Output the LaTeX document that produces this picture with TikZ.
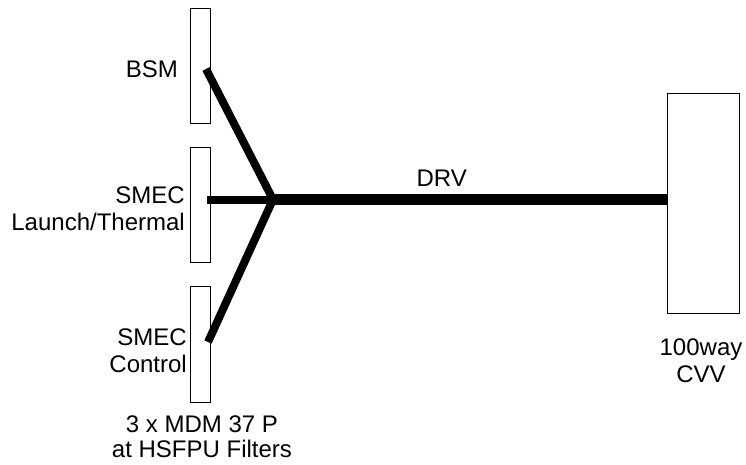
\documentclass[tikz,border=0pt]{standalone}
\usepackage{fontspec}
\setmainfont{Liberation Sans}
\begin{document}
\begin{tikzpicture}[x=1pt,y=-1pt,
  conn/.style={draw,line width=0.9pt,minimum width=20pt,minimum height=115pt,inner sep=0pt},
  lbl/.style={inner sep=0pt,font=\fontsize{24}{26}\selectfont},
  branch/.style={line width=8pt,line cap=butt},
  trunk/.style={line width=11.5pt,line cap=butt}]
\useasboundingbox (0,0) rectangle (746,464);
% connector boxes
\node[conn] (b1) at (200,65.5) {};
\node[conn] (b2) at (200,204.5) {};
\node[conn,minimum height=116pt] (b3) at (200,344) {};
\node[conn,minimum width=72pt,minimum height=220pt] (cvv) at (703,203) {};
% junction and branch ends
\coordinate (j) at (273,199.5);
\coordinate (s1) at (206,69);
\coordinate (s2) at (207,199.5);
\coordinate (s3) at (208,342);
\draw[branch] (s1) -- (j);
\draw[branch] (s2) -- (j);
\draw[branch] (s3) -- (j);
\draw[trunk] (j) -- (cvv.west |- j);
% labels (base anchor = baseline of the last line)
\node[lbl,anchor=base east] (lbsm) at (178,77.3) {BSM};
\node[lbl,anchor=base east,align=right,font=\fontsize{24}{27}\selectfont] (llt) at (185,230) {SMEC\\Launch/Thermal};
\node[lbl,anchor=base east,align=right,font=\fontsize{24}{27}\selectfont] (lctl) at (187,372.5) {SMEC\\Control};
\node[lbl,anchor=base,align=center,font=\fontsize{24}{25}\selectfont] (lmdm) at (202,457) {3 x MDM 37 P\\at HSFPU Filters};
\node[lbl,anchor=base] (ldrv) at (441.7,186) {DRV};
\node[lbl,anchor=base,align=center,font=\fontsize{24}{27}\selectfont] (lcvv) at (701,382) {100way\\CVV};
\end{tikzpicture}
\end{document}
